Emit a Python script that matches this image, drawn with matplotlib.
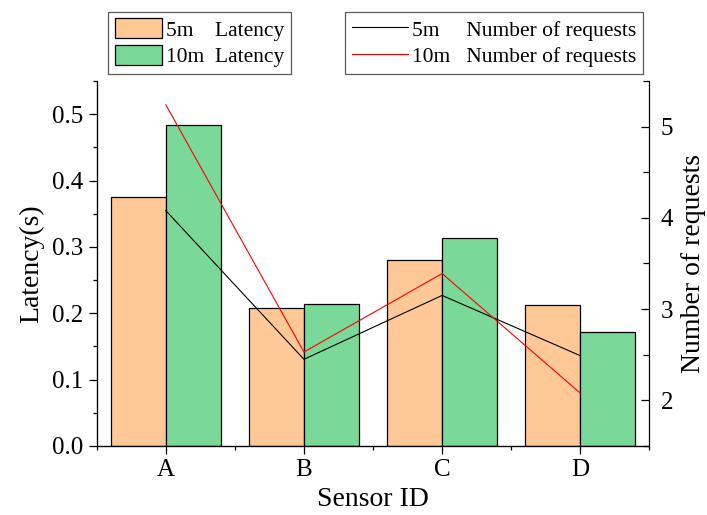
import matplotlib

matplotlib.use("Agg")
import matplotlib.pyplot as plt
from matplotlib.ticker import MultipleLocator

plt.rcParams["font.family"] = ["Liberation Serif", "DejaVu Serif"]

sensors = ["A", "B", "C", "D"]
latency_5m = [0.375, 0.208, 0.281, 0.213]
latency_10m = [0.483, 0.214, 0.313, 0.172]
requests_5m = [4.08, 2.45, 3.15, 2.49]
requests_10m = [5.24, 2.53, 3.39, 2.08]

ORANGE = "#FFC896"
GREEN = "#7AD898"

x = list(range(1, len(sensors) + 1))
width = 0.4

fig = plt.figure(figsize=(7.07, 5.15), dpi=100)
ax = fig.add_axes([0.1368, 0.134, 0.7816, 0.7087])

ax.bar([i - width / 2 for i in x], latency_5m, width, color=ORANGE,
       edgecolor="black", linewidth=0.9, label="5m    Latency")
ax.bar([i + width / 2 for i in x], latency_10m, width, color=GREEN,
       edgecolor="black", linewidth=0.9, label="10m  Latency")

ax.set_xlim(0.5, 4.5)
ax.set_ylim(0, 0.55)
ax.set_xticks(x)
ax.set_xticklabels(sensors)
ax.xaxis.set_minor_locator(MultipleLocator(0.5))
ax.yaxis.set_major_locator(MultipleLocator(0.1))
ax.yaxis.set_minor_locator(MultipleLocator(0.05))
ax.tick_params(axis="both", which="major", direction="out", length=6,
               width=0.9, labelsize=18)
ax.tick_params(axis="both", which="minor", direction="out", length=3, width=0.9)
ax.spines["top"].set_visible(False)
ax.spines["right"].set_visible(False)
for side in ("left", "bottom"):
    ax.spines[side].set_linewidth(0.9)
ax.set_xlabel("Sensor ID", fontsize=20, labelpad=4)
ax.set_ylabel("Latency(s)", fontsize=20, labelpad=6)

ax2 = ax.twinx()
ax2.plot(x, requests_5m, color="black", linewidth=0.8,
         label="5m     Number of requests")
ax2.plot(x, requests_10m, color="red", linewidth=0.8,
         label="10m   Number of requests")
ax2.set_ylim(1.5, 5.5)
ax2.yaxis.set_major_locator(MultipleLocator(1))
ax2.yaxis.set_minor_locator(MultipleLocator(0.5))
ax2.tick_params(axis="y", which="major", direction="in", length=6,
                width=0.9, labelsize=18, pad=8)
ax2.tick_params(axis="y", which="minor", direction="in", length=4, width=0.9)
ax2.spines["top"].set_visible(False)
ax2.spines["right"].set_linewidth(0.9)
ax2.set_ylabel("Number of requests", fontsize=20, labelpad=6)

legend_style = dict(fontsize=15.5, frameon=True, fancybox=False, borderaxespad=0,
                    borderpad=0.3, labelspacing=0.2, handletextpad=0.2)

h1, l1 = ax.get_legend_handles_labels()
leg1 = fig.legend(h1, l1, loc="upper left", bbox_to_anchor=(0.153, 0.977),
                  handlelength=2.2, handleheight=1.05, **legend_style)
h2, l2 = ax2.get_legend_handles_labels()
leg2 = fig.legend(h2, l2, loc="upper right", bbox_to_anchor=(0.909, 0.977),
                  handlelength=2.6, handleheight=1.05, **legend_style)
for leg in (leg1, leg2):
    leg.get_frame().set_edgecolor("#333333")
    leg.get_frame().set_linewidth(0.9)

fig.savefig("out.png", dpi=100)
